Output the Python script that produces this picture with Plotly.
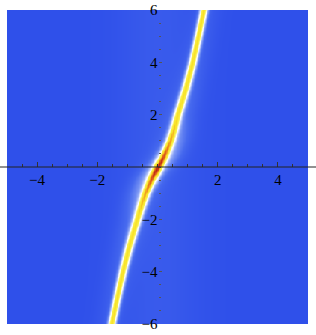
import numpy as np
import plotly.graph_objects as go

# Ridge of the density (along y)
ridge_y = [-6, -5, -4, -3, -2, -1.5, -1, -0.75, -0.5, -0.25, 0,
           0.25, 0.5, 0.75, 1, 1.5, 2, 3, 4, 5, 6]
ridge_x = [-1.53, -1.35, -1.16, -0.94, -0.68, -0.55, -0.40, -0.31, -0.21, -0.11, 0.0,
           0.11, 0.21, 0.31, 0.40, 0.54, 0.65, 0.92, 1.15, 1.34, 1.52]
ridge_peak = [0.74, 0.72, 0.71, 0.68, 0.645, 0.65, 0.655, 0.665, 0.68, 0.69, 0.70,
              0.69, 0.68, 0.665, 0.655, 0.65, 0.645, 0.68, 0.71, 0.72, 0.74]
ridge_width = [0.135, 0.135, 0.14, 0.145, 0.15, 0.155, 0.16, 0.165, 0.17, 0.175, 0.175,
               0.175, 0.17, 0.165, 0.16, 0.155, 0.15, 0.145, 0.14, 0.135, 0.135]
halo_amp = [0.05, 0.06, 0.07, 0.09, 0.12, 0.15, 0.19, 0.21, 0.23, 0.245, 0.25,
            0.245, 0.23, 0.21, 0.19, 0.15, 0.12, 0.09, 0.07, 0.06, 0.05]
halo_shift = [-0.10, -0.10, -0.10, -0.10, -0.12, -0.14, -0.15, -0.14, -0.12, -0.07, 0.0,
              0.07, 0.12, 0.14, 0.15, 0.14, 0.12, 0.10, 0.10, 0.10, 0.10]

x_ticks = [-4, -2, 2, 4]
y_ticks = [-6, -4, -2, 2, 4, 6]
x_tick_text = ["\u22124", "\u22122", "2", "4"]
y_tick_text = ["\u22126", "\u22124", "\u22122", "2", "4", "6"]

xs = np.linspace(-5, 5, 201)
ys = np.linspace(-6, 6, 241)
X, Y = np.meshgrid(xs, ys)
xc = np.interp(ys, ridge_y, ridge_x)[:, None]
pk = np.interp(ys, ridge_y, ridge_peak)[:, None]
wd = np.interp(ys, ridge_y, ridge_width)[:, None]
ha = np.interp(ys, ridge_y, halo_amp)[:, None]
hs = np.interp(ys, ridge_y, halo_shift)[:, None]
D = X - xc
Z = pk * np.exp(-(D / wd) ** 2) + ha * np.exp(-((D - hs) / 0.45) ** 2) \
    + 0.05 * np.exp(-(X / 1.3) ** 2)
Z = np.clip(Z, 0, 1)

colorscale = [
    [0.0, "rgb(47,80,234)"],
    [0.12, "rgb(70,105,238)"],
    [0.28, "rgb(140,165,246)"],
    [0.42, "rgb(220,228,252)"],
    [0.5, "rgb(255,255,255)"],
    [0.58, "rgb(252,250,180)"],
    [0.66, "rgb(250,242,80)"],
    [0.8, "rgb(248,225,40)"],
    [0.88, "rgb(240,150,30)"],
    [0.95, "rgb(215,80,25)"],
    [1.0, "rgb(175,30,20)"],
]

fig = go.Figure()
fig.add_trace(go.Heatmap(x=xs, y=ys, z=Z, colorscale=colorscale, zmin=0, zmax=1,
                         showscale=False, zsmooth="best", hoverinfo="skip"))

fig.add_shape(type="line", xref="paper", yref="y", x0=-0.03, x1=1.03, y0=0, y1=0,
              line=dict(color="#222222", width=1))

tickfont = dict(family="Liberation Serif", size=15, color="black")
fig.update_layout(
    width=316, height=335,
    margin=dict(l=7, r=8, t=10, b=11),
    paper_bgcolor="white", plot_bgcolor="white",
    xaxis=dict(range=[-5, 5], anchor="free", position=0.5, showgrid=False,
               zeroline=False, showline=False, tickvals=x_ticks, ticktext=x_tick_text,
               ticks="inside", ticklen=5, tickcolor="#333", tickfont=tickfont,
               minor=dict(dtick=0.5, tick0=0, ticks="inside", ticklen=3, tickcolor="#333"),
               ticklabelstandoff=2, automargin=False),
    yaxis=dict(range=[-6, 6], anchor="free", position=0.5, showgrid=False,
               zeroline=False, showline=False, tickvals=y_ticks, ticktext=y_tick_text,
               ticks="inside", ticklen=3, tickcolor="#555", tickfont=tickfont,
               minor=dict(dtick=0.5, tick0=0, ticks="inside", ticklen=2, tickcolor="#555"),
               ticklabelstandoff=0, automargin=False),
)
fig.write_html("out.html", config={"displayModeBar": False},
               post_script="document.body.style.margin='0';")
